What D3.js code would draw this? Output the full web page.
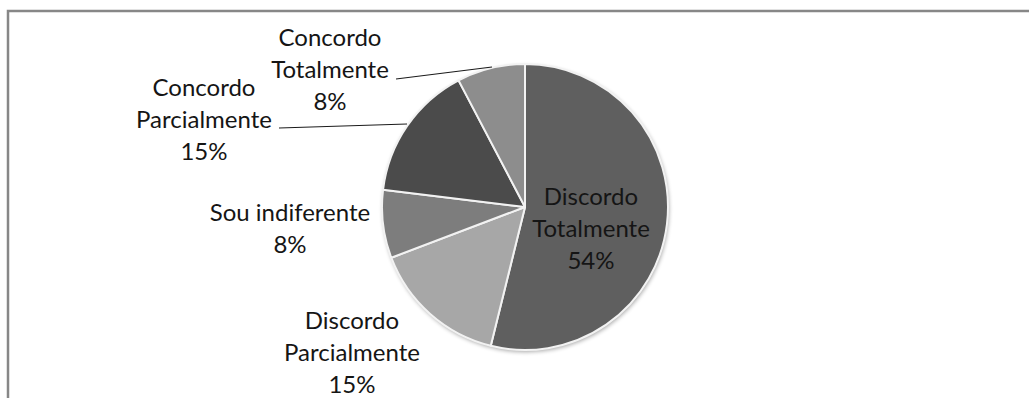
<!DOCTYPE html>
<html>
<head>
<meta charset="utf-8">
<script src="https://cdn.jsdelivr.net/npm/d3@7"></script>
<style>
  body { margin: 0; background: #fff; }
  svg { display: block; }
  text { font-family: Lato, "Open Sans", sans-serif; fill: #151515; }
</style>
</head>
<body>
<svg id="chart" width="1029" height="398"></svg>
<script>
// data (13 answers)
var categories = ['Discordo Totalmente', 'Discordo Parcialmente', 'Sou indiferente', 'Concordo Parcialmente', 'Concordo Totalmente'];
var counts = [7, 2, 1, 2, 1];
var percentLabels = ['54%', '15%', '8%', '15%', '8%'];
var fills = ['#5f5f5f', '#a7a7a7', '#7d7d7d', '#4b4b4b', '#8d8d8d'];

// label layout per slice: lines, centre x, first baseline y, leader line end
var labelLines = [
    ['Discordo', 'Totalmente'],
    ['Discordo', 'Parcialmente'],
    ['Sou indiferente'],
    ['Concordo', 'Parcialmente'],
    ['Concordo', 'Totalmente']
];
var labelPos = [
    { x: 591, y: 205, leader: null },
    { x: 352, y: 329, leader: null },
    { x: 290, y: 221, leader: null },
    { x: 204, y: 96, leader: [[279, 128], [407, 124]] },
    { x: 330, y: 46, leader: [[396, 79], [492, 67]] }
];

var svg = d3.select('#chart');
var cx = 525, cy = 207, radius = 143;
var lineH = 32;

// outer frame (right and bottom edges fall outside the crop)
svg.append('path')
    .attr('d', 'M8,398 L8,11 L1029,11')
    .attr('fill', 'none')
    .attr('stroke', '#878787')
    .attr('stroke-width', 2.5);

var defs = svg.append('defs');
var shadow = defs.append('filter').attr('id', 'shadow')
    .attr('x', '-10%').attr('y', '-10%').attr('width', '120%').attr('height', '120%');
shadow.append('feGaussianBlur').attr('in', 'SourceAlpha').attr('stdDeviation', 2);
shadow.append('feOffset').attr('dx', 1).attr('dy', 2).attr('result', 'blur');
shadow.append('feComponentTransfer').append('feFuncA').attr('type', 'linear').attr('slope', 0.35);
var merge = shadow.append('feMerge');
merge.append('feMergeNode');
merge.append('feMergeNode').attr('in', 'SourceGraphic');

var pie = d3.pie().sort(null).value(function (d) { return d; });
var arc = d3.arc().innerRadius(0).outerRadius(radius);
var arcs = pie(counts);

var g = svg.append('g').attr('transform', 'translate(' + cx + ',' + cy + ')');

g.append('circle')
    .attr('r', radius)
    .attr('fill', '#ddd')
    .attr('filter', 'url(#shadow)');

g.selectAll('path.slice')
    .data(arcs)
    .enter().append('path')
    .attr('class', 'slice')
    .attr('d', arc)
    .attr('fill', function (d, i) { return fills[i]; })
    .attr('stroke', '#f2f2f2')
    .attr('stroke-width', 2)
    .attr('stroke-linejoin', 'round');

// leader lines
labelPos.forEach(function (p) {
    if (!p.leader) return;
    svg.append('line')
        .attr('x1', p.leader[0][0]).attr('y1', p.leader[0][1])
        .attr('x2', p.leader[1][0]).attr('y2', p.leader[1][1])
        .attr('stroke', '#1a1a1a')
        .attr('stroke-width', 1.2);
});

// labels
var labels = svg.selectAll('text.label')
    .data(arcs)
    .enter().append('text')
    .attr('class', 'label')
    .attr('text-anchor', 'middle')
    .attr('font-size', 24);

labels.each(function (d, i) {
    var t = d3.select(this);
    var p = labelPos[i];
    var lines = labelLines[i].concat([percentLabels[i]]);
    lines.forEach(function (s, k) {
        t.append('tspan')
            .attr('x', p.x)
            .attr('y', p.y + k * lineH)
            .text(s);
    });
});
</script>
</body>
</html>
